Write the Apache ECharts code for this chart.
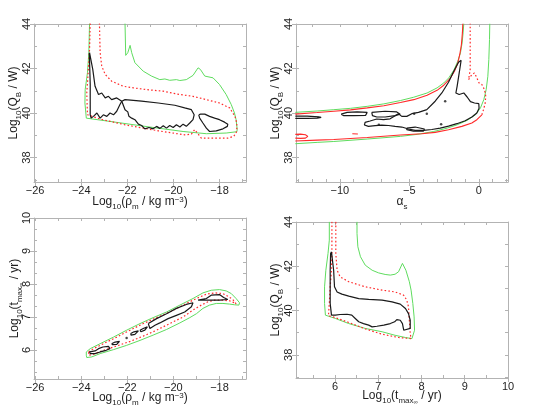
<!DOCTYPE html>
<html>
<head>
<meta charset="utf-8">
<script src="https://cdn.jsdelivr.net/npm/echarts@6/dist/echarts.min.js"></script>
<style>
html, body { margin: 0; padding: 0; background: #fff; }
#chart { width: 534px; height: 406px; }
</style>
</head>
<body>
<div id="chart"></div>
<script>
// ---- axis ranges and ticks ----
const rhoRange = [-26.05, -16.85]
const qRange = [36.9, 44]
const alphaRange = [-13.15, 2.1]
const tRangeY = [5.12, 10]
const tRangeX = [5.1, 10]
const qRange4 = [36.95, 44]

const rhoMajor = [-26, -24, -22, -20, -18]
const rhoMinor = [-26, -25, -24, -23, -22, -21, -20, -19, -18, -17]
const qMajor = [38, 40, 42, 44]
const qMinor = [37, 38, 39, 40, 41, 42, 43, 44]
const alphaMajor = [-10, -5, 0]
const alphaMinor = [-13, -12, -11, -10, -9, -8, -7, -6, -5, -4, -3, -2, -1, 0, 1, 2]
const alphaTop = [-12, -10, -8, -6, -4, -2, 0, 2]
const tMajor = [6, 7, 8, 9, 10]
const tMinorY = [5.333, 5.667, 6, 6.333, 6.667, 7, 7.333, 7.667, 8, 8.333, 8.667, 9, 9.333, 9.667, 10]
const tMinorX = [5.5, 6, 6.5, 7, 7.5, 8, 8.5, 9, 9.5, 10]

// ---- panel 1: log rho vs log Q ----
const p1Green = [[-23.64, 44.03], [-23.67, 42.71], [-23.73, 41.81], [-23.83, 41.05], [-23.84, 40.45], [-23.78, 39.77],
  [-22.46, 39.58], [-21.02, 39.37], [-19.58, 39.17], [-18.57, 39.07], [-17.71, 39.10], [-17.25, 39.16], [-17.23, 39.25],
  [-17.28, 39.70], [-17.35, 40.0], [-17.49, 40.38], [-17.71, 40.83], [-18.0, 41.28], [-18.28, 41.58], [-18.64, 41.66],
  [-18.83, 41.96], [-18.93, 42.03], [-19.15, 41.69], [-19.44, 41.50], [-19.72, 41.46], [-19.87, 41.50], [-20.16, 41.47],
  [-20.37, 41.53], [-20.59, 41.50], [-20.95, 41.66], [-21.31, 41.88], [-21.67, 42.26], [-21.81, 42.71], [-21.88, 43.04],
  [-21.98, 42.71], [-22.07, 42.59], [-22.10, 44.03]]
const p1Red = [[-23.61, 44.03], [-23.64, 42.86], [-23.70, 41.81], [-23.76, 40.90], [-23.73, 39.92], [-23.18, 39.73],
  [-22.10, 39.47], [-20.66, 39.20], [-19.51, 39.02], [-19.22, 39.05], [-19.08, 39.25], [-18.90, 39.02], [-18.79, 38.87],
  [-18.21, 38.87], [-17.64, 38.87], [-17.38, 38.95], [-17.25, 39.17], [-17.25, 39.55], [-17.33, 39.85], [-17.56, 40.23],
  [-18.0, 40.45], [-18.57, 40.60], [-19.15, 40.75], [-19.72, 40.83], [-20.44, 40.98], [-21.16, 41.05], [-21.74, 41.13],
  [-22.17, 41.20], [-22.68, 41.43], [-22.96, 41.73], [-23.11, 42.11], [-23.18, 42.71], [-23.21, 44.03]]
const p1BlackA = [[-23.64, 42.71], [-23.57, 42.66], [-23.50, 41.96], [-23.40, 41.20], [-23.25, 40.83], [-23.11, 40.90],
  [-22.96, 40.68], [-22.82, 40.75], [-22.68, 40.60], [-22.46, 40.68], [-22.24, 40.53], [-22.32, 40.38], [-22.46, 40.08],
  [-22.60, 39.92], [-22.75, 40.0], [-22.89, 39.85], [-23.04, 39.92], [-23.18, 39.77], [-23.32, 40.0], [-23.47, 39.85],
  [-23.57, 39.77], [-23.61, 39.92], [-23.61, 41.28], [-23.65, 42.71]]
const p1BlackB = [[-22.24, 40.53], [-22.10, 40.60], [-21.38, 40.53], [-20.66, 40.45], [-19.94, 40.35], [-19.51, 40.23],
  [-19.22, 40.15], [-19.10, 39.92], [-19.15, 39.70], [-19.29, 39.55], [-19.44, 39.40], [-19.58, 39.50], [-19.72, 39.37],
  [-19.87, 39.47], [-20.01, 39.35], [-20.16, 39.44], [-20.30, 39.32], [-20.44, 39.43], [-20.59, 39.31], [-20.73, 39.40],
  [-20.88, 39.29], [-21.06, 39.35], [-21.24, 39.29], [-21.38, 39.44], [-21.52, 39.50], [-21.67, 39.70], [-21.81, 39.77],
  [-21.93, 39.85], [-21.98, 40.05], [-22.10, 40.15], [-22.24, 40.53]]
const p1BlackC = [[-18.90, 39.92], [-18.86, 39.77], [-18.72, 39.55], [-18.57, 39.32], [-18.43, 39.17], [-18.14, 39.20],
  [-17.85, 39.29], [-17.66, 39.40], [-17.64, 39.50], [-17.78, 39.59], [-18.0, 39.70], [-18.21, 39.77], [-18.43, 39.85],
  [-18.64, 39.95], [-18.82, 39.95], [-18.90, 39.92]]

// ---- panel 2: alpha_s vs log Q ----
const p2GreenUpper = [[-13.2, 40.03], [-11.63, 40.09], [-10.43, 40.15], [-9.23, 40.21], [-8.03, 40.30], [-6.83, 40.41],
  [-5.64, 40.56], [-4.68, 40.71], [-3.72, 40.90], [-3.0, 41.13], [-2.52, 41.35], [-2.16, 41.58], [-1.80, 41.92],
  [-1.51, 42.33], [-1.32, 42.70], [-1.20, 43.15], [-1.13, 43.60], [-1.08, 44.02]]
const p2GreenLower = [[-13.2, 38.62], [-11.63, 38.68], [-10.43, 38.72], [-8.03, 38.83], [-5.64, 38.95], [-4.44, 39.04],
  [-3.24, 39.17], [-2.28, 39.32], [-1.56, 39.47], [-0.84, 39.67], [-0.24, 39.92], [0.12, 40.23], [0.36, 40.60],
  [0.53, 41.05], [0.65, 41.65], [0.72, 42.40], [0.77, 43.30], [0.79, 44.02]]
const p2RedUpper = [[-13.2, 39.95], [-11.63, 40.02], [-10.43, 40.08], [-9.23, 40.14], [-8.03, 40.23], [-6.83, 40.33],
  [-5.64, 40.47], [-4.68, 40.60], [-3.72, 40.80], [-3.0, 41.02], [-2.52, 41.25], [-2.09, 41.53], [-1.75, 41.88],
  [-1.51, 42.25], [-1.37, 42.63], [-1.25, 43.08], [-1.18, 43.60], [-1.15, 44.02]]
const p2RedLower = [[-13.2, 38.74], [-11.63, 38.78], [-10.43, 38.81], [-8.03, 38.90], [-5.64, 39.01], [-4.10, 39.07],
  [-3.14, 39.13], [-2.18, 39.25], [-1.22, 39.40], [-0.50, 39.55], [-0.14, 39.70], [0.22, 39.92]]
const p2RedRight = [[0.22, 39.92], [0.34, 40.15], [0.46, 40.45], [0.50, 40.75], [0.41, 41.05], [0.22, 41.28],
  [0.02, 41.35], [-0.14, 41.58], [-0.31, 41.80], [-0.50, 41.73], [-0.74, 41.50], [-0.62, 41.95], [-0.62, 42.40],
  [-0.62, 44.02]]
const p2RedBlob = [[-13.2, 39.04], [-12.83, 39.05], [-12.47, 39.02], [-12.30, 38.95], [-12.47, 38.87], [-12.83, 38.86], [-13.2, 38.87]]
const p2RedDash = [[-9.1, 39.07], [-8.7, 39.06]]
const p2BlackMain = [[-1.27, 42.37], [-1.41, 41.80], [-1.56, 41.20], [-1.65, 40.90], [-1.41, 40.83], [-1.08, 40.90],
  [-0.84, 40.72], [-0.60, 40.51], [-0.31, 40.45], [0.0, 40.42], [0.02, 40.21], [-0.14, 40.0], [-0.50, 39.82],
  [-0.98, 39.65], [-1.58, 39.52], [-2.18, 39.41], [-2.78, 39.32], [-3.38, 39.26], [-3.98, 39.22], [-4.58, 39.22],
  [-5.06, 39.28], [-5.54, 39.37], [-6.02, 39.40], [-6.50, 39.44], [-6.98, 39.46], [-7.46, 39.43], [-7.94, 39.40],
  [-8.23, 39.46], [-8.18, 39.58], [-7.82, 39.64], [-7.34, 39.73], [-6.86, 39.70], [-6.38, 39.74], [-6.02, 39.88],
  [-5.78, 39.97], [-5.54, 39.85], [-5.18, 39.85], [-4.82, 39.97], [-4.34, 40.03], [-3.74, 40.15], [-3.14, 40.53],
  [-2.66, 40.90], [-2.18, 41.38], [-1.80, 41.88], [-1.46, 42.28], [-1.27, 42.37]]
const p2BlackUpperLeft = [[-7.70, 40.03], [-6.74, 40.08], [-5.90, 40.05], [-5.66, 39.95], [-6.02, 39.88], [-6.74, 39.82],
  [-7.34, 39.82], [-7.65, 39.88], [-7.70, 40.03]]
const p2BlackLoop = [[-5.18, 39.32], [-4.58, 39.37], [-3.91, 39.28], [-3.98, 39.19], [-4.70, 39.19], [-5.18, 39.25], [-5.18, 39.32]]
const p2BlackMid = [[-9.90, 39.95], [-9.47, 40.03], [-8.75, 40.05], [-8.03, 40.03], [-7.91, 39.95], [-8.15, 39.89],
  [-8.99, 39.88], [-9.71, 39.88], [-9.90, 39.95]]
const p2BlackLeft = [[-13.2, 39.86], [-12.35, 39.86], [-11.51, 39.83], [-11.34, 39.80], [-11.63, 39.77], [-12.35, 39.76], [-13.2, 39.76]]
const p2Dots = [[-2.42, 40.53], [-4.65, 39.97], [-3.74, 39.97], [-2.71, 39.50], [-7.19, 39.47]]

// ---- panel 3: log rho vs log t ----
const p3Green = [[-23.78, 5.94], [-23.61, 6.04], [-23.18, 6.19], [-22.60, 6.39], [-22.03, 6.60], [-21.45, 6.80],
  [-20.88, 6.98], [-20.30, 7.15], [-19.72, 7.36], [-19.15, 7.56], [-18.72, 7.73], [-18.36, 7.81], [-18.0, 7.83],
  [-17.71, 7.79], [-17.49, 7.71], [-17.28, 7.56], [-17.13, 7.43], [-17.16, 7.36], [-17.35, 7.37], [-17.56, 7.39],
  [-17.85, 7.41], [-18.14, 7.41], [-18.43, 7.36], [-18.72, 7.26], [-19.0, 7.10], [-19.29, 6.98], [-19.72, 6.82],
  [-20.30, 6.62], [-20.88, 6.45], [-21.45, 6.29], [-22.03, 6.14], [-22.60, 6.01], [-23.18, 5.89], [-23.54, 5.79],
  [-23.76, 5.77], [-23.78, 5.84], [-23.78, 5.94]]
const p3Red = [[-23.68, 5.94], [-23.47, 6.04], [-23.04, 6.19], [-22.46, 6.39], [-21.88, 6.60], [-21.31, 6.80],
  [-20.73, 6.98], [-20.16, 7.15], [-19.58, 7.36], [-19.0, 7.56], [-18.57, 7.69], [-18.21, 7.73], [-17.85, 7.71],
  [-17.64, 7.63], [-17.42, 7.53], [-17.28, 7.40], [-17.42, 7.45], [-17.56, 7.49], [-17.85, 7.51], [-18.21, 7.51],
  [-18.50, 7.46], [-18.79, 7.36], [-19.15, 7.21], [-19.58, 7.0], [-20.16, 6.80], [-20.73, 6.60], [-21.31, 6.42],
  [-21.88, 6.26], [-22.46, 6.12], [-23.04, 5.99], [-23.47, 5.87], [-23.68, 5.84], [-23.73, 5.89], [-23.68, 5.94]]
const p3BlackA = [[-23.64, 5.94], [-23.40, 5.97], [-23.25, 6.04], [-23.06, 6.09], [-22.82, 6.11], [-22.75, 6.04],
  [-22.92, 5.99], [-23.18, 5.94], [-23.40, 5.89], [-23.61, 5.89], [-23.64, 5.94]]
const p3BlackB = [[-22.68, 6.19], [-22.53, 6.24], [-22.34, 6.26], [-22.32, 6.21], [-22.46, 6.17], [-22.63, 6.16], [-22.68, 6.19]]
const p3BlackD = [[-21.85, 6.50], [-21.71, 6.55], [-21.52, 6.58], [-21.51, 6.52], [-21.67, 6.47], [-21.84, 6.45], [-21.85, 6.50]]
const p3BlackE = [[-21.45, 6.60], [-21.31, 6.65], [-21.13, 6.70], [-21.09, 6.65], [-21.24, 6.60], [-21.41, 6.55], [-21.45, 6.60]]
const p3BlackF = [[-21.09, 6.80], [-20.73, 6.95], [-20.30, 7.10], [-19.87, 7.26], [-19.44, 7.38], [-19.15, 7.43],
  [-19.08, 7.38], [-19.22, 7.31], [-19.51, 7.15], [-19.87, 7.05], [-20.23, 6.95], [-20.59, 6.82], [-20.80, 6.75],
  [-21.02, 6.65], [-21.09, 6.70], [-21.09, 6.80]]
const p3BlackG = [[-18.93, 7.51], [-18.57, 7.56], [-18.36, 7.66], [-18.0, 7.68], [-17.82, 7.59], [-17.64, 7.53],
  [-18.0, 7.51], [-18.43, 7.51], [-18.93, 7.51]]
const p3Dots = [[-22.03, 6.36]]

// ---- panel 4: log t vs log Q ----
const p4Green = [[5.87, 44.01], [5.87, 43.18], [5.84, 42.58], [5.79, 41.82], [5.76, 41.07], [5.76, 40.32], [5.78, 39.79],
  [6.01, 39.64], [6.32, 39.41], [6.70, 39.19], [7.09, 39.04], [7.39, 38.88], [7.63, 38.78], [7.78, 38.73], [7.82, 38.81],
  [7.84, 39.11], [7.83, 39.71], [7.80, 40.32], [7.76, 40.92], [7.72, 41.30], [7.64, 41.82], [7.56, 42.13], [7.47, 41.75],
  [7.39, 41.64], [7.28, 41.60], [7.16, 41.63], [7.01, 41.70], [6.86, 41.82], [6.70, 42.05], [6.59, 42.43], [6.53, 42.88],
  [6.51, 43.48], [6.51, 44.01]]
const p4Red = [[6.02, 44.01], [6.02, 42.58], [6.05, 41.82], [6.12, 41.52], [6.32, 41.30], [6.70, 41.07], [7.09, 40.92],
  [7.39, 40.84], [7.59, 40.69], [7.66, 40.47], [7.70, 40.17], [7.72, 39.56], [7.74, 38.96], [7.76, 38.73], [7.47, 38.78],
  [7.09, 38.93], [6.70, 39.17], [6.32, 39.46], [6.01, 39.68], [5.85, 39.77], [5.87, 40.32], [5.89, 41.07], [5.92, 41.82],
  [5.93, 42.58], [5.93, 44.01]]
const p4Black = [[5.92, 42.65], [5.95, 42.58], [5.97, 41.82], [5.99, 41.07], [6.05, 40.84], [6.16, 40.74], [6.32, 40.65],
  [6.55, 40.54], [6.78, 40.50], [7.09, 40.47], [7.32, 40.39], [7.51, 40.29], [7.63, 40.09], [7.70, 39.86], [7.74, 39.56],
  [7.74, 39.19], [7.70, 39.11], [7.59, 39.11], [7.56, 39.41], [7.51, 39.56], [7.43, 39.59], [7.38, 39.49], [7.28, 39.41],
  [7.13, 39.34], [6.97, 39.29], [6.86, 39.26], [6.78, 39.34], [6.66, 39.41], [6.55, 39.49], [6.47, 39.64], [6.39, 39.79],
  [6.28, 39.83], [6.12, 39.82], [6.01, 39.79], [5.92, 39.79], [5.89, 40.32], [5.89, 41.07], [5.89, 41.82], [5.90, 42.58],
  [5.92, 42.65]]

// ---- styling ----
const GRAY = '#b3b3b3'
const FONT = 'Liberation Sans'
const TEXT = '#1e1e1e'
const GREEN = { color: '#5fdc5f', width: 1 }
const RED = { color: '#ff2a2a', width: 1.2, type: [1.6, 2.2] }
const RED_SOLID = { color: '#ff2a2a', width: 1.1 }
const BLACK = { color: '#1a1a1a', width: 1.2 }

const rich = {
  n: { fontSize: 12, lineHeight: 13, verticalAlign: 'top', fontFamily: FONT, color: TEXT },
  sub: { fontSize: 8, lineHeight: 8, verticalAlign: 'top', padding: [7, 0, 0, 0], fontFamily: FONT, color: TEXT },
  sup: { fontSize: 8, lineHeight: 8, verticalAlign: 'top', fontFamily: FONT, color: TEXT },
  ss: { fontSize: 6, lineHeight: 6, verticalAlign: 'top', padding: [9, 0, 0, 0], fontFamily: FONT, color: TEXT }
}
const nameRho = '{n|Log}{sub|10}{n|(\u03c1}{sub|m}{n| / kg m}{sup|\u22123}{n|)}'
const nameQ = '{n|Log}{sub|10}{n|(Q}{sub|B}{n| / W)}'
const nameT = '{n|Log}{sub|10}{n|(t}{sub|max}{ss|\u221e}{n| / yr)}'
const nameAlpha = '{n|\u03b1}{sub|s}'

function fmt (v) {
  return v < 0 ? '\u2212' + Math.abs(v) : String(v)
}

const grids = [
  { left: 34, top: 24, width: 212, height: 158 },
  { left: 296, top: 24, width: 212, height: 158 },
  { left: 34, top: 218, width: 212, height: 161 },
  { left: 296, top: 222, width: 212, height: 156 }
]

const xAxes = []
const yAxes = []

function addPanel (g, p) {
  const xi = xAxes.length
  const yi = yAxes.length
  const line = { show: true, onZero: false, lineStyle: { color: GRAY, width: 1 } }
  xAxes.push({
    gridIndex: g, type: 'value', position: 'bottom', min: p.xr[0], max: p.xr[1],
    axisLine: line,
    axisTick: { show: true, customValues: p.xMajor, length: 4, lineStyle: { color: GRAY } },
    axisLabel: { show: true, customValues: p.xMajor, formatter: fmt, margin: 3, fontSize: 11, color: TEXT, fontFamily: FONT },
    splitLine: { show: false },
    name: p.xName, nameLocation: 'middle', nameGap: p.xGap, nameMoveOverlap: false,
    nameTextStyle: { rich: rich }
  })
  xAxes.push({
    gridIndex: g, type: 'value', position: 'bottom', min: p.xr[0], max: p.xr[1],
    axisLine: { show: false, onZero: false },
    axisTick: { show: true, inside: true, customValues: p.xMinor, length: 3, lineStyle: { color: GRAY } },
    axisLabel: { show: false }, splitLine: { show: false }
  })
  xAxes.push({
    gridIndex: g, type: 'value', position: 'top', min: p.xr[0], max: p.xr[1],
    axisLine: line,
    axisTick: { show: true, inside: true, customValues: p.xTop, length: 3, lineStyle: { color: GRAY } },
    axisLabel: { show: false }, splitLine: { show: false }
  })
  yAxes.push({
    gridIndex: g, type: 'value', position: 'left', min: p.yr[0], max: p.yr[1],
    axisLine: line,
    axisTick: { show: true, customValues: p.yMajor, length: 4, lineStyle: { color: GRAY } },
    axisLabel: { show: true, customValues: p.yMajor, rotate: 90, margin: 2, fontSize: 11, color: TEXT, fontFamily: FONT },
    splitLine: { show: false },
    name: p.yName, nameLocation: 'middle', nameRotate: 90, nameGap: p.yGap, nameMoveOverlap: false,
    nameTextStyle: { rich: rich }
  })
  yAxes.push({
    gridIndex: g, type: 'value', position: 'left', min: p.yr[0], max: p.yr[1],
    axisLine: { show: false, onZero: false },
    axisTick: { show: true, inside: true, customValues: p.yMinor, length: 3, lineStyle: { color: GRAY } },
    axisLabel: { show: false }, splitLine: { show: false }
  })
  yAxes.push({
    gridIndex: g, type: 'value', position: 'right', min: p.yr[0], max: p.yr[1],
    axisLine: line,
    axisTick: { show: true, inside: true, customValues: p.yMinor, length: 3, lineStyle: { color: GRAY } },
    axisLabel: { show: false }, splitLine: { show: false }
  })
  return [xi, yi]
}

const a1 = addPanel(0, { xr: rhoRange, yr: qRange, xMajor: rhoMajor, xMinor: rhoMinor, xTop: rhoMinor,
  yMajor: qMajor, yMinor: qMinor, xName: nameRho, yName: nameQ, xGap: 14, yGap: 13 })
const a2 = addPanel(1, { xr: alphaRange, yr: qRange, xMajor: alphaMajor, xMinor: alphaMinor, xTop: alphaTop,
  yMajor: qMajor, yMinor: qMinor, xName: nameAlpha, yName: nameQ, xGap: 14, yGap: 13 })
const a3 = addPanel(2, { xr: rhoRange, yr: tRangeY, xMajor: rhoMajor, xMinor: rhoMinor, xTop: rhoMinor,
  yMajor: tMajor, yMinor: tMinorY, xName: nameRho, yName: nameT, xGap: 13, yGap: 12 })
const a4 = addPanel(3, { xr: tRangeX, yr: qRange4, xMajor: tMajor, xMinor: tMinorX, xTop: tMinorX,
  yMajor: qMajor, yMinor: qMinor, xName: nameT, yName: nameQ, xGap: 12, yGap: 13 })

function contour (data, ax, style) {
  return {
    type: 'line', xAxisIndex: ax[0], yAxisIndex: ax[1], data: data,
    showSymbol: false, symbol: 'none', smooth: false, clip: true, silent: true,
    lineStyle: style
  }
}
function dots (data, ax) {
  return {
    type: 'scatter', xAxisIndex: ax[0], yAxisIndex: ax[1], data: data,
    symbolSize: 2.5, itemStyle: { color: '#1a1a1a' }, silent: true
  }
}

const series = [
  contour(p1Green, a1, GREEN), contour(p1Red, a1, RED),
  contour(p1BlackA, a1, BLACK), contour(p1BlackB, a1, BLACK), contour(p1BlackC, a1, BLACK),

  contour(p2GreenUpper, a2, GREEN), contour(p2GreenLower, a2, GREEN),
  contour(p2RedUpper, a2, RED_SOLID), contour(p2RedLower, a2, RED_SOLID), contour(p2RedRight, a2, RED),
  contour(p2RedBlob, a2, RED_SOLID), contour(p2RedDash, a2, RED_SOLID),
  contour(p2BlackMain, a2, BLACK), contour(p2BlackUpperLeft, a2, BLACK), contour(p2BlackLoop, a2, BLACK),
  contour(p2BlackMid, a2, BLACK), contour(p2BlackLeft, a2, BLACK), dots(p2Dots, a2),

  contour(p3Green, a3, GREEN), contour(p3Red, a3, RED),
  contour(p3BlackA, a3, BLACK), contour(p3BlackB, a3, BLACK), contour(p3BlackD, a3, BLACK),
  contour(p3BlackE, a3, BLACK), contour(p3BlackF, a3, BLACK), contour(p3BlackG, a3, BLACK), dots(p3Dots, a3),

  contour(p4Green, a4, GREEN), contour(p4Red, a4, RED), contour(p4Black, a4, BLACK)
]

const chart = echarts.init(document.getElementById('chart'), null, { renderer: 'canvas' })
chart.setOption({
  backgroundColor: '#fff',
  animation: false,
  grid: grids.map(g => Object.assign({ outerBoundsMode: 'none', containLabel: false }, g)),
  xAxis: xAxes,
  yAxis: yAxes,
  series: series
})
</script>
</body>
</html>
